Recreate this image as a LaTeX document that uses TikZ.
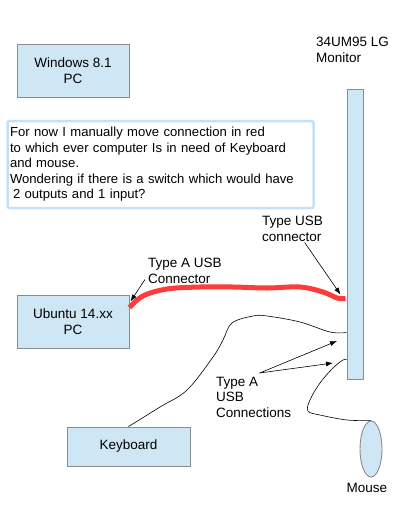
\documentclass[tikz,border=0pt]{standalone}
\usepackage{fontspec}
\setmainfont{Liberation Sans}
\usetikzlibrary{positioning,arrows.meta,calc,shapes.geometric}
\definecolor{boxblue}{HTML}{CFE7F5}
\definecolor{boxline}{HTML}{8C8C8C}
\definecolor{noteline}{HTML}{C6E0F8}
\definecolor{cablered}{HTML}{FF3B3B}

\begin{document}
\begin{tikzpicture}[x=1pt, y=-1pt, font=\fontsize{13.5}{15.5}\selectfont,
  pc/.style={draw=boxline, fill=boxblue, line width=0.9pt, inner sep=0pt, align=center},
  lbl/.style={anchor=north west, inner sep=0pt, align=left},
  arr/.style={-{Latex[length=7pt,width=5pt]}, line width=0.6pt},
  cable/.style={line width=0.6pt}]
\useasboundingbox (0,0) rectangle (418,512);
% computers, monitor, peripherals
\node[pc, minimum width=112pt, minimum height=53pt] (win) at (73,70.5) {Windows 8.1\\PC};
\node[pc, minimum width=112pt, minimum height=53pt] (ubuntu) at (73,321.5) {Ubuntu 14.xx\\PC};
\node[pc, minimum width=123pt, minimum height=39pt] (kbd) at (128.5,446.5) {Keyboard};
\node[pc, minimum width=16pt, minimum height=290pt] (monitor) at (355,234) {};
\node[pc, ellipse, minimum width=22pt, minimum height=56pt] (mouse) at (371,449) {};
\node[lbl] (monlbl) at (316,37) {34UM95 LG\\Monitor};
\node[anchor=north, inner sep=0pt] (mouselbl) at (367,483) {Mouse};
% note
\node[draw=noteline, line width=2.5pt, rounded corners=2pt, fill=white,
  text width=301pt, inner xsep=2.5pt, minimum height=87pt, align=left,
  font=\fontsize{13.1}{15.5}\selectfont] (note) at (160.5,164.5)
  {For now I manually move connection in red\\to which ever computer Is in need of Keyboard\\and mouse.\\Wondering if there is a switch which would have\\\hspace*{3pt}2 outputs and 1 input?};
% ports on the monitor
\coordinate (redport) at ($(monitor.north west)+(-1,210)$);
\coordinate (kbdport) at ($(monitor.north west)+(0,244)$);
\coordinate (mouseport) at ($(monitor.north west)+(0,271)$);
\coordinate (redend) at ($(ubuntu.north east)+(0,13)$);
% cables
\draw[cablered, line width=5pt] plot[smooth, tension=0.6] coordinates
  {(redend) (143,296) (167,289) (200,287) (233,287) (267,288) (300,287) (323,292) (337,298) (redport)};
\draw[cable] plot[smooth, tension=0.6] coordinates
  {(kbd.north) (160,407) (187,390) (213,357) (223,340) (232,323) (253,316) (267,316) (300,322) (330,332) (kbdport)};
\draw[cable] plot[smooth, tension=0.6] coordinates
  {(mouse.north) (347,420) (320,415) (308,411) (310,400) (320,383) (333,368) (343,360) (mouseport)};
% labels
\node[lbl] (lblA) at (148,258) {Type A USB\\Connector};
\node[lbl] (lblB) at (262,216) {Type USB\\connector};
\node[lbl] (lblC) at (216,377) {Type A\\USB\\Connections};
\coordinate (tipC1) at (337,341);
\coordinate (tipC2) at (333,363);
\draw[arr] ($(lblA.south west)+(-3,-4)$) -- ($(ubuntu.north east)+(1,7)$);
\draw[arr] ($(lblB.south)+(12,1)$) -- ($(redport)+(-5,-4)$);
\draw[arr] ($(lblC.north)+(6,-4)$) -- (tipC1);
\draw[arr] ($(lblC.north)+(6,-4)$) -- (tipC2);
\end{tikzpicture}
\end{document}
